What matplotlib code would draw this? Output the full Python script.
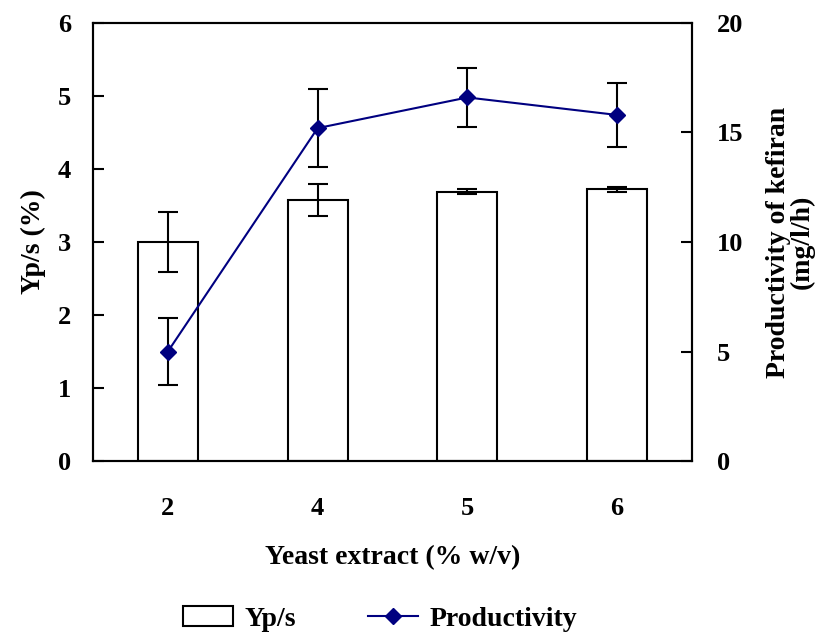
import numpy as np
import matplotlib.pyplot as plt

# data
yeast = ['2', '4', '5', '6']
yps = [3.00, 3.57, 3.69, 3.72]
yps_err = [0.41, 0.22, 0.03, 0.04]
prod = [5.0, 15.2, 16.6, 15.8]
prod_err = [1.55, 1.78, 1.33, 1.47]

plt.rcParams['font.family'] = 'Liberation Serif'
plt.rcParams['font.weight'] = 'bold'
plt.rcParams['font.size'] = 19

fig = plt.figure(figsize=(8.26, 6.35), dpi=100)
ax = fig.add_axes([0.1126, 0.274, 0.7252, 0.6898])
x = np.arange(len(yeast))

bars = ax.bar(x, yps, width=0.4, color='white', edgecolor='black', lw=1.5,
              yerr=yps_err, capsize=7, error_kw=dict(ecolor='black', elinewidth=1.5, capthick=1.5),
              label='Yp/s')
ax.set_xlim(-0.5, 3.5)
ax.set_ylim(0, 6)
ax.set_xticks(x)
ax.set_xticklabels(yeast)
ax.tick_params(axis='x', length=0, pad=26)
ax.tick_params(axis='y', direction='in', length=8, width=1.5, pad=16)
ax.set_ylabel('Yp/s (%)', fontweight='bold', fontsize=20, labelpad=8)
ax.set_xlabel('Yeast extract (% w/v)', fontweight='bold', fontsize=20, labelpad=18)
for s in ax.spines.values():
    s.set_linewidth(1.5)

ax2 = ax.twinx()
ax2.errorbar(x, prod, yerr=prod_err, fmt='none', ecolor='black', elinewidth=1.5,
             capsize=7, capthick=1.5)
line, = ax2.plot(x, prod, color='#000080', marker='D', ms=8, lw=1.5, label='Productivity')
ax2.set_ylim(0, 20)
ax2.set_yticks([0, 5, 10, 15, 20])
ax2.tick_params(axis='y', direction='in', length=8, width=1.5, pad=18)
ax2.set_ylabel('Productivity of kefiran\n(mg/l/h)', fontweight='bold', fontsize=20,
               labelpad=16, linespacing=0.95)
for s in ax2.spines.values():
    s.set_linewidth(1.5)

fig.legend([bars, line], ['Yp/s', 'Productivity'], loc='center', ncol=2,
           bbox_to_anchor=(0.46, 0.025), frameon=False, handlelength=1.8,
           handletextpad=0.4, columnspacing=2.6, fontsize=20)

plt.savefig('out.png', dpi=100)
